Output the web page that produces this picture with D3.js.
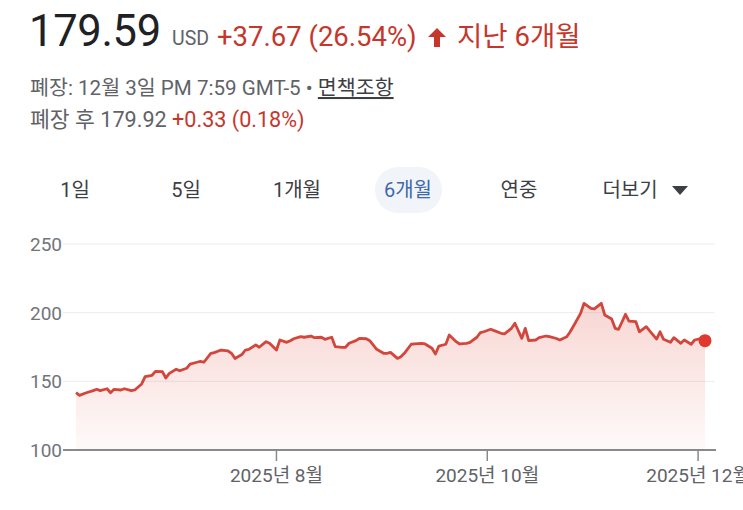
<!DOCTYPE html>
<html>
<head>
<meta charset="utf-8">
<script src="https://cdn.jsdelivr.net/npm/d3@7"></script>
<style>
  html, body { margin: 0; padding: 0; background: #fff; }
  svg { display: block; }
  text { font-family: "Roboto", "Noto Sans CJK KR", sans-serif; }
</style>
</head>
<body>
<div id="chart"></div>
<script>
// six-month close, one reading per trading session
const DATES = [
  '2025-06-04','2025-06-05','2025-06-07','2025-06-09','2025-06-10','2025-06-11','2025-06-13','2025-06-14',
  '2025-06-15','2025-06-17','2025-06-18','2025-06-20','2025-06-21','2025-06-23','2025-06-24','2025-06-26',
  '2025-06-27','2025-06-29','2025-06-30','2025-07-01','2025-07-03','2025-07-04','2025-07-06','2025-07-07',
  '2025-07-09','2025-07-10','2025-07-11','2025-07-13','2025-07-14','2025-07-16','2025-07-18','2025-07-19',
  '2025-07-20','2025-07-22','2025-07-23','2025-07-24','2025-07-26','2025-07-27','2025-07-29','2025-07-30',
  '2025-08-01','2025-08-02','2025-08-04','2025-08-05','2025-08-06','2025-08-08','2025-08-09','2025-08-11',
  '2025-08-12','2025-08-14','2025-08-15','2025-08-17','2025-08-18','2025-08-20','2025-08-21','2025-08-22',
  '2025-08-24','2025-08-25','2025-08-27','2025-08-28','2025-08-30','2025-09-01','2025-09-02','2025-09-03',
  '2025-09-05','2025-09-06','2025-09-07','2025-09-09','2025-09-10','2025-09-12','2025-09-13','2025-09-15',
  '2025-09-16','2025-09-17','2025-09-19','2025-09-20','2025-09-22','2025-09-23','2025-09-25','2025-09-26',
  '2025-09-28','2025-09-29','2025-09-30','2025-10-02','2025-10-03','2025-10-05','2025-10-06','2025-10-08',
  '2025-10-09','2025-10-11','2025-10-12','2025-10-13','2025-10-15','2025-10-16','2025-10-18','2025-10-19',
  '2025-10-21','2025-10-22','2025-10-24','2025-10-25','2025-10-26','2025-10-28','2025-10-29','2025-10-31',
  '2025-11-01','2025-11-03','2025-11-04','2025-11-06','2025-11-07','2025-11-08','2025-11-10','2025-11-11',
  '2025-11-13','2025-11-14','2025-11-16','2025-11-17','2025-11-19','2025-11-20','2025-11-21','2025-11-23',
  '2025-11-24','2025-11-26','2025-11-27','2025-11-29','2025-11-30','2025-12-02','2025-12-03'
];
const PRICES = [
  141.7, 139.8, 141.7, 143.2, 144.2, 143.2, 144.6, 141.7,
  144.2, 143.7, 144.6, 143.2, 143.7, 148.1, 153.4, 154.4,
  157.3, 157.0, 152.4, 155.8, 158.8, 157.7, 159.5, 162.6,
  163.9, 164.6, 163.9, 170.4, 170.9, 172.8, 172.1, 170.4,
  166.6, 169.5, 172.8, 173.3, 176.5, 174.8, 178.9, 177.7,
  172.8, 180.1, 178.4, 179.6, 181.0, 182.5, 182.1, 183.0,
  181.8, 182.1, 180.6, 182.1, 175.3, 174.8, 174.8, 177.7,
  179.6, 181.3, 181.0, 179.6, 173.3, 170.4, 170.4, 171.1,
  166.7, 167.9, 170.4, 177.0, 177.2, 177.7, 177.2, 174.1,
  169.9, 175.7, 177.0, 183.7, 178.9, 177.2, 177.7, 178.4,
  182.1, 185.4, 186.1, 187.9, 186.9, 185.0, 184.5, 188.6,
  192.3, 181.3, 188.6, 179.6, 180.1, 181.8, 183.0, 182.5,
  181.2, 180.1, 182.5, 186.1, 190.5, 199.5, 206.8, 203.2,
  202.7, 206.8, 198.3, 195.4, 188.6, 187.9, 198.8, 193.9,
  193.4, 186.1, 189.8, 186.7, 180.8, 186.1, 180.6, 178.4,
  181.8, 177.7, 180.1, 177.0, 180.1, 181.3, 179.59
];
const Y_TICKS = [100, 150, 200, 250];
const X_TICKS = ['2025-08-01', '2025-10-01', '2025-12-01'];
const X_TICK_LABELS = ['2025년 8월', '2025년 10월', '2025년 12월'];
const TABS = ['1일', '5일', '1개월', '6개월', '연중', '더보기'];
const ACTIVE_TAB = '6개월';

const W = 743, H = 510;
const RED = '#c5372c', LINE = '#d2463c', GREY = '#5f6368', INK = '#202124';

const parse = d3.utcParse('%Y-%m-%d');
const data = DATES.map((d, i) => ({ date: parse(d), v: PRICES[i] }));

const svg = d3.select('#chart').append('svg')
  .attr('width', W).attr('height', H).attr('viewBox', `0 0 ${W} ${H}`);

// ---- header
svg.append('text').attr('x', 29).attr('y', 46)
  .attr('font-size', 43.5).attr('letter-spacing', -0.3).attr('fill', INK).text('179.59');
svg.append('text').attr('x', 172).attr('y', 45)
  .attr('font-size', 19.5).attr('fill', GREY).text('USD');
svg.append('text').attr('x', 217).attr('y', 46)
  .attr('font-size', 27.5).attr('fill', RED).text('+37.67 (26.54%)');

const arrowX = 428, arrowY = 28;
svg.append('path')
  .attr('d', `M${arrowX + 9},${arrowY} l9,9 h-6 v10 h-6 v-10 h-6 Z`)
  .attr('fill', RED);
svg.append('text').attr('x', 457).attr('y', 46)
  .attr('font-size', 27.5).attr('fill', RED).text('지난 6개월');

const l2 = svg.append('text').attr('x', 30).attr('y', 95).attr('font-size', 20.6).attr('fill', GREY);
l2.append('tspan').text('폐장: 12월 3일 PM 7:59 GMT-5 • ');
l2.append('tspan').attr('fill', '#3c4043').attr('text-decoration', 'underline').text('면책조항');

const l3 = svg.append('text').attr('x', 30).attr('y', 127).attr('font-size', 21.6).attr('fill', GREY);
l3.append('tspan').text('폐장 후 179.92 ');
l3.append('tspan').attr('fill', RED).text('+0.33 (0.18%)');

// ---- range tabs
const tabX = d3.scalePoint().domain(TABS).range([75, 630]);
const act = tabX(ACTIVE_TAB);
svg.append('rect')
  .attr('x', act - 33).attr('y', 167).attr('width', 67).attr('height', 46)
  .attr('rx', 23).attr('fill', '#f1f4f9');
svg.append('g').selectAll('text').data(TABS).join('text')
  .attr('x', d => tabX(d)).attr('y', 197)
  .attr('text-anchor', 'middle').attr('font-size', 20)
  .attr('fill', d => d === ACTIVE_TAB ? '#3f69aa' : '#3c4043')
  .text(d => d);
const tri = tabX('더보기') + 50;
svg.append('path').attr('d', `M${tri - 8},186 h16 l-8,9 Z`).attr('fill', '#3c4043');

// ---- chart
const x = d3.scaleUtc().domain([parse(DATES[0]), parse(DATES[DATES.length - 1])]).range([76, 705]);
const y = d3.scaleLinear().domain([100, 250]).range([450, 244]);
const gridX0 = 63, gridX1 = 714;

svg.append('g').selectAll('line').data(Y_TICKS.filter(t => t !== 100)).join('line')
  .attr('x1', gridX0).attr('x2', gridX1)
  .attr('y1', d => y(d)).attr('y2', d => y(d))
  .attr('stroke', '#ececec').attr('stroke-width', 1);

svg.append('g').selectAll('text').data(Y_TICKS).join('text')
  .attr('x', 62).attr('y', d => y(d)).attr('dy', '0.36em')
  .attr('text-anchor', 'end').attr('font-size', 19).attr('fill', '#70757a')
  .text(d => d);

const grad = svg.append('defs').append('linearGradient')
  .attr('id', 'fillGrad').attr('gradientUnits', 'userSpaceOnUse')
  .attr('x1', 0).attr('x2', 0).attr('y1', y(207)).attr('y2', y(100));
grad.append('stop').attr('offset', 0).attr('stop-color', '#e05548').attr('stop-opacity', 0.24);
grad.append('stop').attr('offset', 1).attr('stop-color', '#e05548').attr('stop-opacity', 0.03);

svg.append('path').datum(data)
  .attr('d', d3.area().x(d => x(d.date)).y0(y(100)).y1(d => y(d.v)))
  .attr('fill', 'url(#fillGrad)');

// axis baseline + month ticks
svg.append('line')
  .attr('x1', gridX0).attr('x2', 716).attr('y1', y(100)).attr('y2', y(100))
  .attr('stroke', '#8a8a8a').attr('stroke-width', 2);
const xt = svg.append('g').selectAll('g').data(X_TICKS).join('g')
  .attr('transform', d => `translate(${x(parse(d))},0)`);
xt.append('line').attr('y1', y(100)).attr('y2', y(100) + 11)
  .attr('stroke', '#8a8a8a').attr('stroke-width', 1.5);
xt.append('text').attr('y', 482).attr('text-anchor', 'middle')
  .attr('font-size', 19).attr('fill', GREY)
  .text((d, i) => X_TICK_LABELS[i]);

svg.append('path').datum(data)
  .attr('d', d3.line().x(d => x(d.date)).y(d => y(d.v)))
  .attr('fill', 'none').attr('stroke', LINE).attr('stroke-width', 2.8)
  .attr('stroke-linejoin', 'round');

const last = data[data.length - 1];
svg.append('circle').attr('cx', x(last.date)).attr('cy', y(last.v))
  .attr('r', 6.5).attr('fill', '#e0392e');
</script>
</body>
</html>
